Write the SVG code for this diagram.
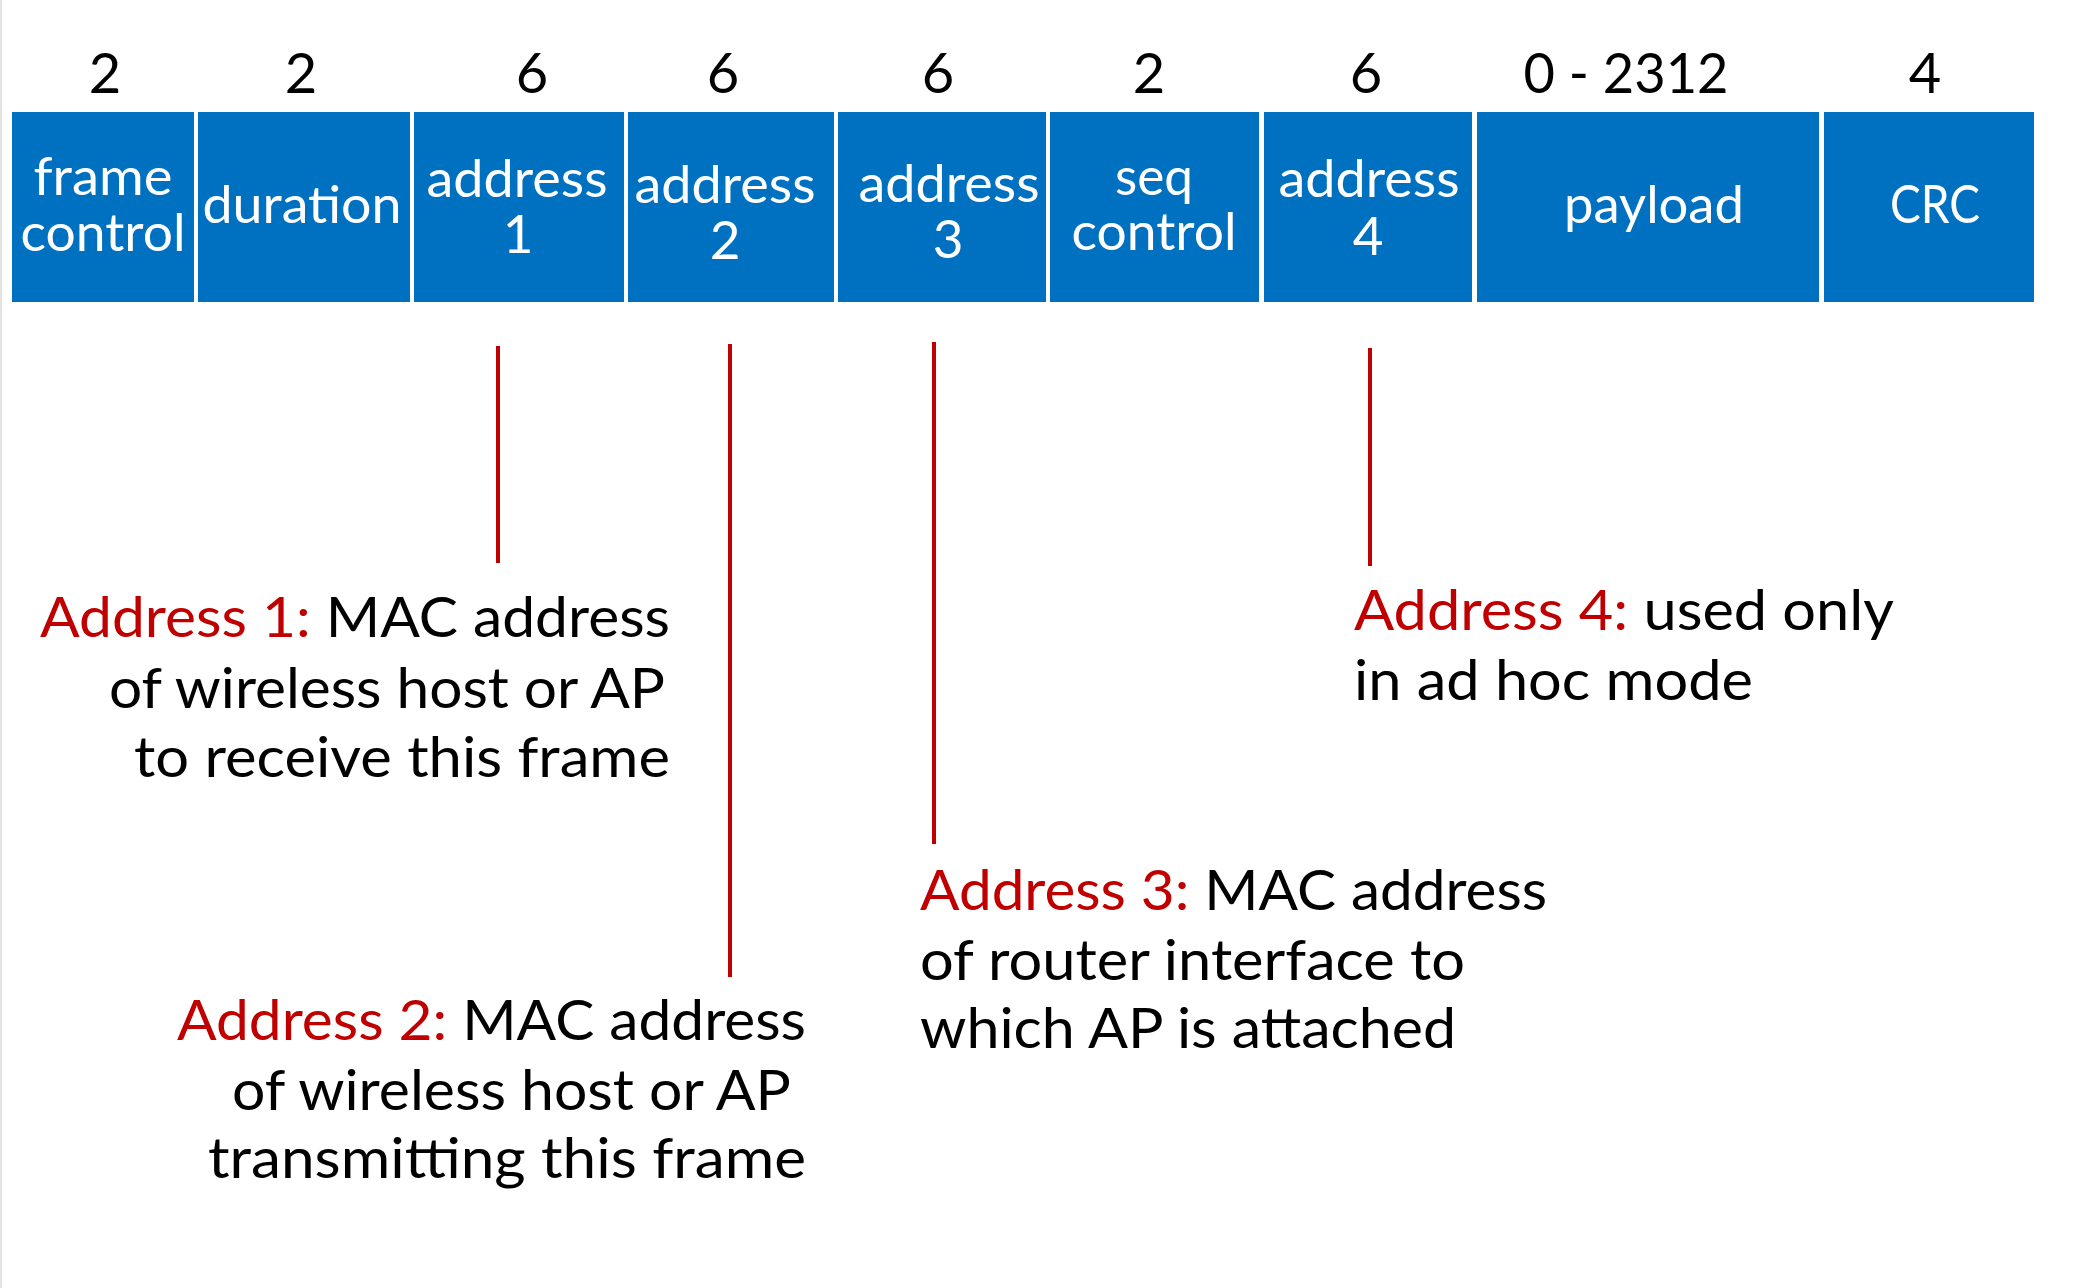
<svg xmlns="http://www.w3.org/2000/svg" width="2086" height="1288" viewBox="0 0 2086 1288">
<style>
.bg{fill:#ffffff}
.box{fill:#0070C0}
.lbl{font-family:Lato,"Open Sans","Liberation Sans",sans-serif;font-size:53px;fill:#ffffff;text-anchor:middle}
.num{font-family:Lato,"Open Sans","Liberation Sans",sans-serif;font-size:56px;fill:#000000;text-anchor:middle}
.ann{font-family:Lato,"Open Sans","Liberation Sans",sans-serif;font-size:57px;fill:#000000}
.red{fill:#C00000}
.conn{stroke:#C00000;stroke-width:4;fill:none}
</style>
<rect class="bg" x="0" y="0" width="2086" height="1288"/>
<line x1="1" y1="0" x2="1" y2="1288" stroke="#e2e2e2" stroke-width="2"/>

<g id="sizes">
<text class="num" x="105" y="93">2</text>
<text class="num" x="301" y="93">2</text>
<text class="num" x="532" y="93">6</text>
<text class="num" x="723" y="93">6</text>
<text class="num" x="938" y="93">6</text>
<text class="num" x="1149" y="93">2</text>
<text class="num" x="1366" y="93">6</text>
<text class="num" x="1626" y="93" textLength="205" lengthAdjust="spacingAndGlyphs">0 - 2312</text>
<text class="num" x="1925" y="93">4</text>
</g>

<g id="frame-control">
<rect class="box" x="12" y="112" width="182" height="190"/>
<text class="lbl" x="103" y="195" textLength="139" lengthAdjust="spacingAndGlyphs">frame</text>
<text class="lbl" x="103" y="251" textLength="165" lengthAdjust="spacingAndGlyphs">control</text>
</g>
<g id="duration">
<rect class="box" x="198" y="112" width="212" height="190"/>
<text class="lbl" x="302" y="223" textLength="199" lengthAdjust="spacingAndGlyphs">duration</text>
</g>
<g id="address1">
<rect class="box" x="414" y="112" width="210" height="190"/>
<text class="lbl" x="517" y="197" textLength="181" lengthAdjust="spacingAndGlyphs">address</text>
<text class="lbl" x="518" y="253">1</text>
</g>
<g id="address2">
<rect class="box" x="628" y="112" width="206" height="190"/>
<text class="lbl" x="725" y="203" textLength="181" lengthAdjust="spacingAndGlyphs">address</text>
<text class="lbl" x="725" y="259">2</text>
</g>
<g id="address3">
<rect class="box" x="838" y="112" width="208" height="190"/>
<text class="lbl" x="949" y="202" textLength="181" lengthAdjust="spacingAndGlyphs">address</text>
<text class="lbl" x="948" y="258">3</text>
</g>
<g id="seq-control">
<rect class="box" x="1050" y="112" width="209" height="190"/>
<text class="lbl" x="1154" y="195" textLength="78" lengthAdjust="spacingAndGlyphs">seq</text>
<text class="lbl" x="1154" y="250" textLength="165" lengthAdjust="spacingAndGlyphs">control</text>
</g>
<g id="address4">
<rect class="box" x="1264" y="112" width="208" height="190"/>
<text class="lbl" x="1369" y="197" textLength="181" lengthAdjust="spacingAndGlyphs">address</text>
<text class="lbl" x="1368" y="255">4</text>
</g>
<g id="payload">
<rect class="box" x="1477" y="112" width="342" height="190"/>
<text class="lbl" x="1654" y="223" textLength="180" lengthAdjust="spacingAndGlyphs">payload</text>
</g>
<g id="crc">
<rect class="box" x="1824" y="112" width="210" height="190"/>
<text class="lbl" x="1935" y="223" textLength="90" lengthAdjust="spacingAndGlyphs">CRC</text>
</g>

<g id="connectors">
<line class="conn" x1="498" y1="346" x2="498" y2="563"/>
<line class="conn" x1="730" y1="344" x2="730" y2="977"/>
<line class="conn" x1="934" y1="342" x2="934" y2="844"/>
<line class="conn" x1="1370" y1="348" x2="1370" y2="566"/>
</g>

<g id="note-address1">
<text class="ann" x="40" y="637" textLength="630" lengthAdjust="spacingAndGlyphs"><tspan class="red">Address 1:</tspan> MAC address</text>
<text class="ann" x="109" y="708" textLength="556" lengthAdjust="spacingAndGlyphs">of wireless host or AP</text>
<text class="ann" x="134" y="777" textLength="536" lengthAdjust="spacingAndGlyphs">to receive this frame</text>
</g>
<g id="note-address2">
<text class="ann" x="177" y="1040" textLength="629" lengthAdjust="spacingAndGlyphs"><tspan class="red">Address 2:</tspan> MAC address</text>
<text class="ann" x="232" y="1110" textLength="559" lengthAdjust="spacingAndGlyphs">of wireless host or AP</text>
<text class="ann" x="208" y="1178" textLength="598" lengthAdjust="spacingAndGlyphs">transmitting this frame</text>
</g>
<g id="note-address3">
<text class="ann" x="920" y="910" textLength="627" lengthAdjust="spacingAndGlyphs"><tspan class="red">Address 3:</tspan> MAC address</text>
<text class="ann" x="920" y="980" textLength="545" lengthAdjust="spacingAndGlyphs">of router interface to</text>
<text class="ann" x="920" y="1048" textLength="536" lengthAdjust="spacingAndGlyphs">which AP is attached</text>
</g>
<g id="note-address4">
<text class="ann" x="1354" y="630" textLength="540" lengthAdjust="spacingAndGlyphs"><tspan class="red">Address 4:</tspan> used only</text>
<text class="ann" x="1354" y="700" textLength="399" lengthAdjust="spacingAndGlyphs">in ad hoc mode</text>
</g>
</svg>
